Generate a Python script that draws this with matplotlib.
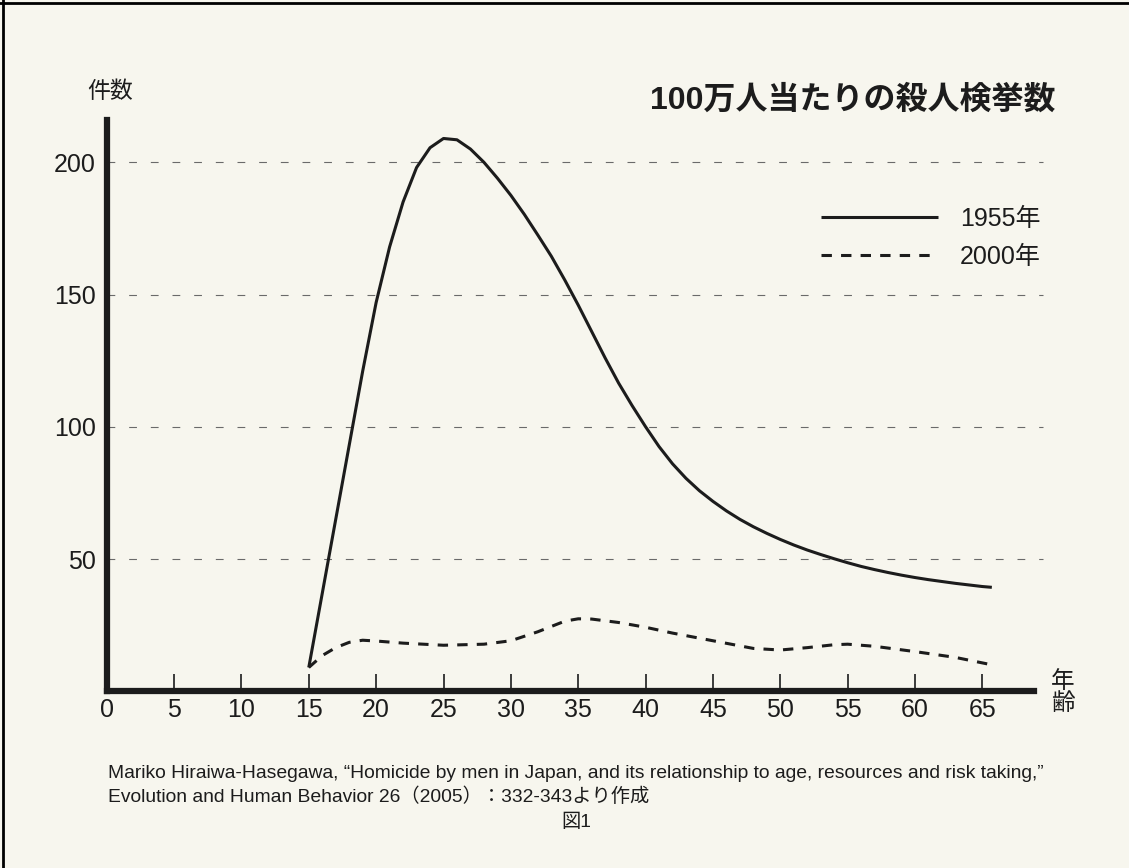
import numpy as np
import matplotlib.pyplot as plt
from matplotlib import font_manager
from matplotlib.lines import Line2D

# 100万人当たりの殺人検挙数 (読み取り値)
age_1955 = [15, 16, 17, 18, 19, 20, 21, 22, 23, 24, 25, 26, 27, 28, 29, 30,
            31, 32, 33, 34, 35, 36, 37, 38, 39, 40, 41, 42, 43, 44, 45, 46,
            47, 48, 49, 50, 51, 52, 53, 54, 55, 56, 57, 58, 59, 60, 61, 62,
            63, 64, 65, 65.7]
cnt_1955 = [9, 37, 65, 93, 121, 147, 168, 185, 198, 205.5, 209, 208.5, 205,
            200, 194, 187.5, 180.3, 172.5, 164.5, 155.5, 146, 136, 126, 116.5,
            108, 100, 92.5, 86, 80.5, 75.8, 71.8, 68.2, 65, 62.2, 59.7, 57.4,
            55.3, 53.4, 51.7, 50.1, 48.6, 47.2, 46, 44.9, 43.9, 43, 42.2,
            41.5, 40.8, 40.2, 39.6, 39.3]

age_2000 = [15, 16, 17, 18, 19, 20, 22, 25, 28, 30, 32, 34, 35, 36, 38, 40,
            42, 45, 48, 50, 52, 54, 55, 57, 60, 63, 65.7]
cnt_2000 = [9, 13.5, 16.5, 18.5, 19.3, 19, 18.2, 17.4, 17.8, 19.1, 22.5, 26.5,
            27.4, 27.3, 26, 24.2, 22, 19.1, 16.2, 15.6, 16.5, 17.6, 17.8, 17,
            15, 12.8, 10]

xticks = list(range(0, 70, 5))
yticks = [50, 100, 150, 200]
labels = ['1955年', '2000年']

names = {f.name for f in font_manager.fontManager.ttflist}
has_narrow = 'Liberation Sans Narrow' in names
narrow = 'Liberation Sans Narrow' if has_narrow else 'Liberation Sans'
cap_size = 16.5 if has_narrow else 13.9
plt.rcParams['font.family'] = ['Liberation Sans', 'Noto Sans CJK JP', 'DejaVu Sans']

bg = '#f7f6ee'
ink = '#1c1c1c'

fig = plt.figure(figsize=(11.29, 8.68), dpi=100, facecolor=bg)
ax = fig.add_axes([0.0945, 0.2036, 0.8210, 0.6582], facecolor=bg)

for v in yticks:
    ax.axhline(v, xmax=1.01, color='#6a6a6a', lw=0.8, ls=(0, (7, 12.5)),
               zorder=1, clip_on=False)

ax.plot(age_1955, cnt_1955, color=ink, lw=2.2, label=labels[0],
        solid_capstyle='butt', solid_joinstyle='round', zorder=3)
ax.plot(age_2000, cnt_2000, color=ink, lw=2.2, ls=(0, (3.4, 3.0)),
        label=labels[1], zorder=3)

ax.set_xlim(0, 68.8)
ax.set_ylim(0, 216)
ax.set_xticks(xticks)
ax.set_yticks(yticks)
ax.tick_params(axis='x', direction='in', length=12, width=1.2, color=ink,
               labelsize=18, labelcolor=ink, pad=5)
ax.tick_params(axis='y', length=0, labelsize=18, labelcolor=ink, pad=8)

for s in ['top', 'right']:
    ax.spines[s].set_visible(False)
for s in ['left', 'bottom']:
    ax.spines[s].set_linewidth(4.5)
    ax.spines[s].set_color(ink)

leg = ax.legend(loc='upper right', bbox_to_anchor=(1041 / 1129, 1 - 207 / 868),
                bbox_transform=fig.transFigure, frameon=False, fontsize=18,
                handlelength=4.68, handletextpad=0.9, labelspacing=0.55,
                borderpad=0, borderaxespad=0)
for t in leg.get_texts():
    t.set_color(ink)

fig.text(1055 / 1129, 1 - 100 / 868, '100万人当たりの殺人検挙数', ha='right',
         va='center', fontsize=23, fontweight='bold', color=ink)
fig.text(110 / 1129, 1 - 91 / 868, '件数', ha='center', va='center',
         fontsize=16.5, color=ink)
fig.text(1063 / 1129, 1 - 693 / 868, '年\n齢', ha='center', va='center',
         fontsize=17, color=ink, linespacing=0.95)

cap = [narrow, 'Noto Sans CJK JP', 'DejaVu Sans']
fig.text(108 / 1129, 1 - 773 / 868,
         'Mariko Hiraiwa-Hasegawa, \u201cHomicide by men in Japan, and its '
         'relationship to age, resources and risk taking,\u201d',
         ha='left', va='center', fontsize=cap_size, color=ink, family=cap)
fig.text(108 / 1129, 1 - 797 / 868,
         'Evolution and Human Behavior 26（2005）：332-343より作成',
         ha='left', va='center', fontsize=cap_size, color=ink, family=cap)
fig.text(576 / 1129, 1 - 822 / 868, '図1', ha='center', va='center',
         fontsize=cap_size, color=ink, family=cap)

# 枠線 (左と上)
fig.add_artist(Line2D([0.003, 0.003], [0, 1], transform=fig.transFigure,
                      color='black', lw=2))
fig.add_artist(Line2D([0, 1], [0.997, 0.997], transform=fig.transFigure,
                      color='black', lw=2))

fig.savefig('out.png', dpi=100, facecolor=bg)
